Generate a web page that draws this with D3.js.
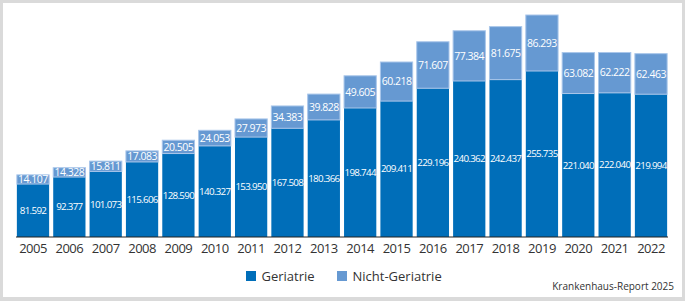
<!DOCTYPE html>
<html><head><meta charset="utf-8">
<script src="https://cdn.jsdelivr.net/npm/d3@7"></script>
<style>
html,body{margin:0;padding:0;background:#fff;}
svg{display:block;}
</style></head>
<body>
<svg id="chart" width="685" height="301"></svg>
<script>
const years = ["2005","2006","2007","2008","2009","2010","2011","2012","2013","2014","2015","2016","2017","2018","2019","2020","2021","2022"];
const geriatrie = [81592,92377,101073,115606,128590,140327,153950,167508,180366,198744,209411,229196,240362,242437,255735,221040,222040,219994];
const nichtGeriatrie = [14107,14328,15811,17083,20505,24053,27973,34383,39828,49605,60218,71607,77384,81675,86293,63082,62222,62463];
const seriesNames = ["Geriatrie","Nicht-Geriatrie"];
const sourceText = "Krankenhaus-Report 2025";

const colors = {"Geriatrie":"#006eb9","Nicht-Geriatrie":"#6699d2"};
const font = "'Open Sans', 'Noto Sans', sans-serif";

const svg = d3.select("#chart");
const W = 685, H = 301;
svg.append("rect").attr("width",W).attr("height",H).attr("fill","#dadada");
svg.append("rect").attr("x",3).attr("y",3).attr("width",679).attr("height",294).attr("fill","#fff");

const locale = d3.formatLocale({decimal:",", thousands:".", grouping:[3], currency:["","€"]});
const fmt = locale.format(",d");

const data = years.map((y,i)=>({year:y, "Geriatrie":geriatrie[i], "Nicht-Geriatrie":nichtGeriatrie[i]}));
const stack = d3.stack().keys(seriesNames)(data);

const x = d3.scaleBand().domain(years).range([16, 668]).paddingInner(0.085).paddingOuter(0.01);
const maxTotal = d3.max(data, d=>d["Geriatrie"]+d["Nicht-Geriatrie"]);
const y = d3.scaleLinear().domain([0, maxTotal]).range([237, 15]);

const g = svg.append("g");
stack.forEach(s=>{
  const key = s.key;
  g.append("g").selectAll("rect").data(s).join("rect")
    .attr("x", d=>x(d.data.year)+0.5)
    .attr("width", x.bandwidth()-1)
    .attr("y", d=>y(d[1]))
    .attr("height", d=>y(d[0])-y(d[1]))
    .attr("fill", colors[key])
    .attr("stroke", key==="Nicht-Geriatrie" ? "#a9c6ea" : "none")
    .attr("stroke-width", 1);
  g.append("g").selectAll("text").data(s).join("text")
    .attr("x", d=>x(d.data.year)+x.bandwidth()/2)
    .attr("y", d=>(y(d[0])+y(d[1]))/2)
    .attr("dy","0.35em")
    .attr("text-anchor","middle")
    .attr("fill","#fff")
    .style("font-family", font)
    .style("font-size", key==="Geriatrie" ? "9.8px" : "10.5px")
    .style("letter-spacing", key==="Geriatrie" ? "-0.7px" : "-0.5px")
    .text(d=>fmt(d.data[key]));
});

const axis = d3.axisBottom(x).tickSize(0).tickPadding(7);
const ax = svg.append("g").attr("transform","translate(0,237)").call(axis);
ax.select(".domain").attr("stroke","#222").attr("stroke-width",1.2).attr("d","M16,0H668");
ax.selectAll("text").style("font-family",font).style("font-size","13px").attr("fill","#333").style("letter-spacing","-0.5px");

// legend
const legendItems = [{name:"Geriatrie", x:246},{name:"Nicht-Geriatrie", x:337}];
const lg = svg.append("g");
legendItems.forEach(it=>{
  lg.append("rect").attr("x",it.x).attr("y",271).attr("width",10).attr("height",10).attr("fill",colors[it.name]);
  lg.append("text").attr("x",it.x+15.5).attr("y",276).attr("dy","0.35em")
    .style("font-family",font).style("font-size","13px").attr("fill","#333")
    .text(it.name);
});

svg.append("text").attr("x",674).attr("y",286).attr("dy","0.35em").attr("text-anchor","end")
  .style("font-family",font).style("font-size","10px").attr("fill","#333")
  .text(sourceText);
</script>
</body></html>
